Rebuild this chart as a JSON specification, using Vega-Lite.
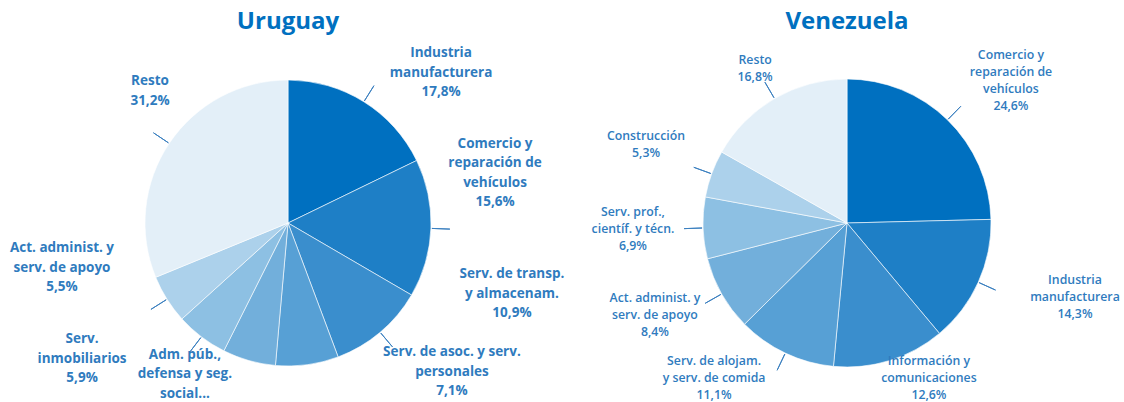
{
  "$schema": "https://vega.github.io/schema/vega-lite/v6.json",
  "background": "white",
  "padding": {"left": 0, "top": 10, "right": 0, "bottom": 0},
  "bounds": "flush",
  "spacing": 0,
  "config": {"view": {"stroke": null}},
  "resolve": {"scale": {"theta": "independent", "radius": "independent", "color": "independent"}},
  "data": {"values": [
    {"country": "Uruguay", "sector": "Industria manufacturera", "value": 17.8, "label": "Industria\nmanufacturera\n17,8%"},
    {"country": "Uruguay", "sector": "Comercio y reparación de vehículos", "value": 15.6, "label": "Comercio y\nreparación de\nvehículos\n15,6%"},
    {"country": "Uruguay", "sector": "Serv. de transp. y almacenam.", "value": 10.9, "label": "Serv. de transp.\ny almacenam.\n10,9%"},
    {"country": "Uruguay", "sector": "Serv. de asoc. y serv. personales", "value": 7.1, "label": "Serv. de asoc. y serv.\npersonales\n7,1%"},
    {"country": "Uruguay", "sector": "Adm. púb., defensa y seg. social", "value": 6.0, "label": "Adm. púb.,\ndefensa y seg.\nsocial..."},
    {"country": "Uruguay", "sector": "Serv. inmobiliarios", "value": 5.9, "label": "Serv.\ninmobiliarios\n5,9%"},
    {"country": "Uruguay", "sector": "Act. administ. y serv. de apoyo", "value": 5.5, "label": "Act. administ. y\nserv. de apoyo\n5,5%"},
    {"country": "Uruguay", "sector": "Resto", "value": 31.2, "label": "Resto\n31,2%"},
    {"country": "Venezuela", "sector": "Comercio y reparación de vehículos", "value": 24.6, "label": "Comercio y\nreparación de\nvehículos\n24,6%"},
    {"country": "Venezuela", "sector": "Industria manufacturera", "value": 14.3, "label": "Industria\nmanufacturera\n14,3%"},
    {"country": "Venezuela", "sector": "Información y comunicaciones", "value": 12.6, "label": "Información y\ncomunicaciones\n12,6%"},
    {"country": "Venezuela", "sector": "Serv. de alojam. y serv. de comida", "value": 11.1, "label": "Serv. de alojam.\ny serv. de comida\n11,1%"},
    {"country": "Venezuela", "sector": "Act. administ. y serv. de apoyo", "value": 8.4, "label": "Act. administ. y\nserv. de apoyo\n8,4%"},
    {"country": "Venezuela", "sector": "Serv. prof., científ. y técn.", "value": 6.9, "label": "Serv. prof.,\ncientíf. y técn.\n6,9%"},
    {"country": "Venezuela", "sector": "Construcción", "value": 5.3, "label": "Construcción\n5,3%"},
    {"country": "Venezuela", "sector": "Resto", "value": 16.8, "label": "Resto\n16,8%"}
  ]},
  "transform": [{"stack": "value", "groupby": ["country"], "as": ["v0", "v1"]}],
  "hconcat": [
    {
      "title": {"text": "Uruguay", "font": "Open Sans", "fontSize": 24, "fontWeight": "bold", "color": "#0070C0", "anchor": "middle", "frame": "group", "baseline": "alphabetic", "offset": -12},
      "width": 576,
      "height": 364,
      "transform": [{"filter": "datum.country === 'Uruguay'"}],
      "resolve": {"scale": {"theta": "independent", "radius": "independent"}},
      "layer": [
        {
          "mark": {"type": "arc", "outerRadius": 143, "stroke": "white", "strokeWidth": 0.6},
          "encoding": {
            "theta": {"field": "v0", "type": "quantitative", "scale": {"domain": [0, 100]}},
            "theta2": {"field": "v1"},
            "color": {"field": "sector", "type": "nominal", "legend": null, "scale": {
              "domain": ["Industria manufacturera", "Comercio y reparación de vehículos", "Serv. de transp. y almacenam.", "Serv. de asoc. y serv. personales", "Adm. púb., defensa y seg. social", "Serv. inmobiliarios", "Act. administ. y serv. de apoyo", "Resto"],
              "range": ["#0070C0", "#1E7FC6", "#3A8ECD", "#57A0D5", "#72AFDB", "#8DC0E3", "#ACD1EB", "#E3EFF8"]}}
          }
        },
        {
          "transform": [{"filter": {"not": {"field": "sector", "oneOf": ["Serv. de asoc. y serv. personales", "Adm. púb., defensa y seg. social"]}}}],
          "mark": {"type": "arc", "innerRadius": 144, "outerRadius": 162, "padAngle": 3, "filled": false, "stroke": "#3B80C0", "strokeWidth": 1},
          "encoding": {
            "theta": {"field": "v0", "type": "quantitative", "scale": {"domain": [0, 100]}},
            "theta2": {"field": "v1"}
          }
        },
        {
          "mark": {"type": "text", "lineBreak": "\n", "align": "center", "baseline": "middle", "font": "Open Sans", "fontWeight": "bold", "fontSize": 13.5, "lineHeight": 19.5, "color": "#2F7BBE"},
          "encoding": {
            "theta": {"field": "v0", "type": "quantitative", "stack": null, "scale": {"type": "linear", "nice": false, "zero": false,
              "domain": [0, 17.8, 33.4, 44.3, 51.4, 57.4, 63.3, 68.8],
              "range": [0.733, 1.206, 1.795, 2.238, 3.805, 4.199, 4.602, 5.512]}},
            "radius": {"field": "v0", "type": "quantitative", "scale": {"type": "linear", "nice": false, "zero": false,
              "domain": [0, 17.8, 33.4, 44.3, 51.4, 57.4, 63.3, 68.8],
              "range": [228.7, 221.6, 229.7, 208.7, 167.4, 236.4, 227.4, 198.0]}},
            "text": {"field": "label"}
          }
        }
      ]
    },
    {
      "title": {"text": "Venezuela", "font": "Open Sans", "fontSize": 24, "fontWeight": "bold", "color": "#0070C0", "anchor": "middle", "frame": "group", "baseline": "alphabetic", "offset": -12},
      "width": 542,
      "height": 364,
      "transform": [{"filter": "datum.country === 'Venezuela'"}],
      "resolve": {"scale": {"theta": "independent", "radius": "independent"}},
      "layer": [
        {
          "mark": {"type": "arc", "outerRadius": 144, "stroke": "white", "strokeWidth": 0.6},
          "encoding": {
            "theta": {"field": "v0", "type": "quantitative", "scale": {"domain": [0, 100]}},
            "theta2": {"field": "v1"},
            "color": {"field": "sector", "type": "nominal", "legend": null, "scale": {
              "domain": ["Comercio y reparación de vehículos", "Industria manufacturera", "Información y comunicaciones", "Serv. de alojam. y serv. de comida", "Act. administ. y serv. de apoyo", "Serv. prof., científ. y técn.", "Construcción", "Resto"],
              "range": ["#0070C0", "#1E7FC6", "#3A8ECD", "#57A0D5", "#72AFDB", "#8DC0E3", "#ACD1EB", "#E3EFF8"]}}
          }
        },
        {
          "transform": [{"filter": {"not": {"field": "sector", "oneOf": ["Información y comunicaciones"]}}}],
          "mark": {"type": "arc", "innerRadius": 145, "outerRadius": 163, "padAngle": 3, "filled": false, "stroke": "#3B80C0", "strokeWidth": 1},
          "encoding": {
            "theta": {"field": "v0", "type": "quantitative", "scale": {"domain": [0, 100]}},
            "theta2": {"field": "v1"}
          }
        },
        {
          "mark": {"type": "text", "lineBreak": "\n", "align": "center", "baseline": "middle", "font": "Open Sans", "fontWeight": 600, "fontSize": 12.3, "lineHeight": 17, "color": "#2F7BBE"},
          "encoding": {
            "theta": {"field": "v0", "type": "quantitative", "stack": null, "scale": {"type": "linear", "nice": false, "zero": false,
              "domain": [0, 24.6, 38.9, 51.5, 62.6, 71.0, 77.9, 83.2],
              "range": [0.773, 1.816, 2.606, 3.908, 4.341, 4.763, 5.121, 5.77]}},
            "radius": {"field": "v0", "type": "quantitative", "scale": {"type": "linear", "nice": false, "zero": false,
              "domain": [0, 24.6, 38.9, 51.5, 62.6, 71.0, 77.9, 83.2],
              "range": [234.8, 235.0, 160.5, 191.7, 206.1, 214.3, 219.0, 187.2]}},
            "text": {"field": "label"}
          }
        }
      ]
    }
  ]
}
